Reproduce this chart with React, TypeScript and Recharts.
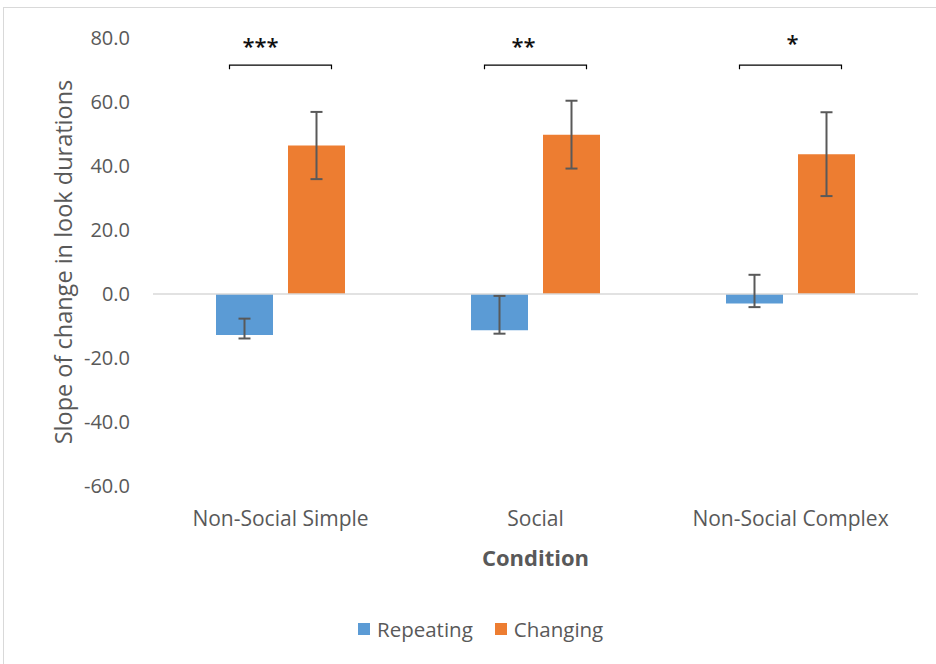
import { Bar, BarChart, ErrorBar, LabelList, ReferenceLine, XAxis, YAxis } from 'recharts';

const CONDITIONS = ['Non-Social Simple', 'Social', 'Non-Social Complex'];
const REPEATING = [-12.8, -11.3, -3.0];
const REPEATING_ERR_LOW = [1.1, 1.1, 1.1];
const REPEATING_ERR_HIGH = [5.1, 10.7, 9.0];
const CHANGING = [46.4, 49.8, 43.7];
const CHANGING_ERR = [10.5, 10.6, 13.1];
const SIGNIFICANCE = ['***', '**', '*'];
const BRACKET_LEVEL = 71.5;
const Y_TICKS = [-60, -40, -20, 0, 20, 40, 60, 80];

const BLUE = '#5B9BD5';
const ORANGE = '#ED7D31';
const TEXT = '#595959';
const FONT = '"Open Sans", sans-serif';

const data = CONDITIONS.map((c, i) => ({
  condition: c,
  repeating: REPEATING[i],
  repeatingErr: [REPEATING_ERR_LOW[i], REPEATING_ERR_HIGH[i]],
  changing: CHANGING[i],
  changingErr: CHANGING_ERR[i],
  sig: SIGNIFICANCE[i],
}));

// star offsets from the bracket centre, the text boxes were placed by hand
const STAR_DX = [-20, -12, 2];
const STAR_DY = [0, 0, -3];

function SigBracket(props: any) {
  const { x, y, width, height, index } = props;
  const value = CHANGING[index];
  const zeroY = y + height;
  const by = zeroY - (BRACKET_LEVEL * height) / value;
  const cx = x - 7.5;
  const half = 51;
  return (
    <g>
      <path
        d={`M${cx - half},${by + 4} V${by} H${cx + half} V${by + 4}`}
        fill="none"
        stroke="#000"
        strokeWidth={1.2}
      />
      <text
        x={cx + STAR_DX[index]}
        y={by - 11 + STAR_DY[index]}
        textAnchor="middle"
        fontFamily={FONT}
        fontSize={22}
        fontWeight={600}
        fill="#111"
      >
        {SIGNIFICANCE[index]}
      </text>
    </g>
  );
}

function LegendRow() {
  const items = [
    { name: 'Repeating', color: BLUE },
    { name: 'Changing', color: ORANGE },
  ];
  return (
    <div
      style={{
        position: 'absolute',
        left: 358,
        top: 615,
        display: 'flex',
        alignItems: 'center',
        fontFamily: FONT,
        fontSize: 20.5,
        color: TEXT,
      }}
    >
      {items.map((it, i) => (
        <div key={it.name} style={{ display: 'flex', alignItems: 'center', marginRight: i === 0 ? 22 : 0 }}>
          <span style={{ width: 12, height: 12, background: it.color, marginRight: 7, display: 'inline-block' }} />
          <span>{it.name}</span>
        </div>
      ))}
    </div>
  );
}

export default function App() {
  return (
    <div style={{ position: 'absolute', left: 0, top: 0, width: 936, height: 664, background: '#fff', overflow: 'hidden' }}>
      <div
        style={{
          position: 'absolute',
          left: 3,
          top: 7,
          width: 1000,
          height: 700,
          border: '1.5px solid #d9d9d9',
          boxSizing: 'border-box',
        }}
      />
      <BarChart
        width={936}
        height={664}
        data={data}
        margin={{ top: 38, right: 18, bottom: 148, left: 0 }}
        barGap={15}
        barCategoryGap={63}
        style={{ position: 'absolute', left: 0, top: 0 }}
      >
        <XAxis
          dataKey="condition"
          axisLine={false}
          tickLine={false}
          tickSize={0}
          tickMargin={25}
          tick={{ fill: TEXT, fontSize: 21, fontFamily: FONT }}
          label={{
            value: 'Condition',
            position: 'insideBottom',
            offset: -50,
            fill: TEXT,
            fontSize: 22,
            fontWeight: 700,
            fontFamily: FONT,
          }}
        />
        <YAxis
          width={153}
          domain={[-60, 80]}
          ticks={Y_TICKS}
          interval={0}
          axisLine={false}
          tickLine={false}
          tickSize={0}
          tickMargin={23}
          tickFormatter={(v: number) => v.toFixed(1)}
          tick={{ fill: TEXT, fontSize: 20, fontFamily: FONT }}
          label={{
            value: 'Slope of change in look durations',
            angle: -90,
            position: 'insideLeft',
            offset: 64,
            fill: TEXT,
            fontSize: 23.5,
            fontFamily: FONT,
            style: { textAnchor: 'middle' },
          }}
        />
        <ReferenceLine y={0} stroke="#d9d9d9" strokeWidth={1.5} />
        <Bar dataKey="repeating" fill={BLUE} isAnimationActive={false}>
          <ErrorBar dataKey="repeatingErr" width={6} stroke="#595959" strokeWidth={2} />
        </Bar>
        <Bar dataKey="changing" fill={ORANGE} isAnimationActive={false}>
          <ErrorBar dataKey="changingErr" width={6} stroke="#595959" strokeWidth={2} />
          <LabelList dataKey="sig" content={SigBracket} />
        </Bar>
      </BarChart>
      <LegendRow />
    </div>
  );
}
